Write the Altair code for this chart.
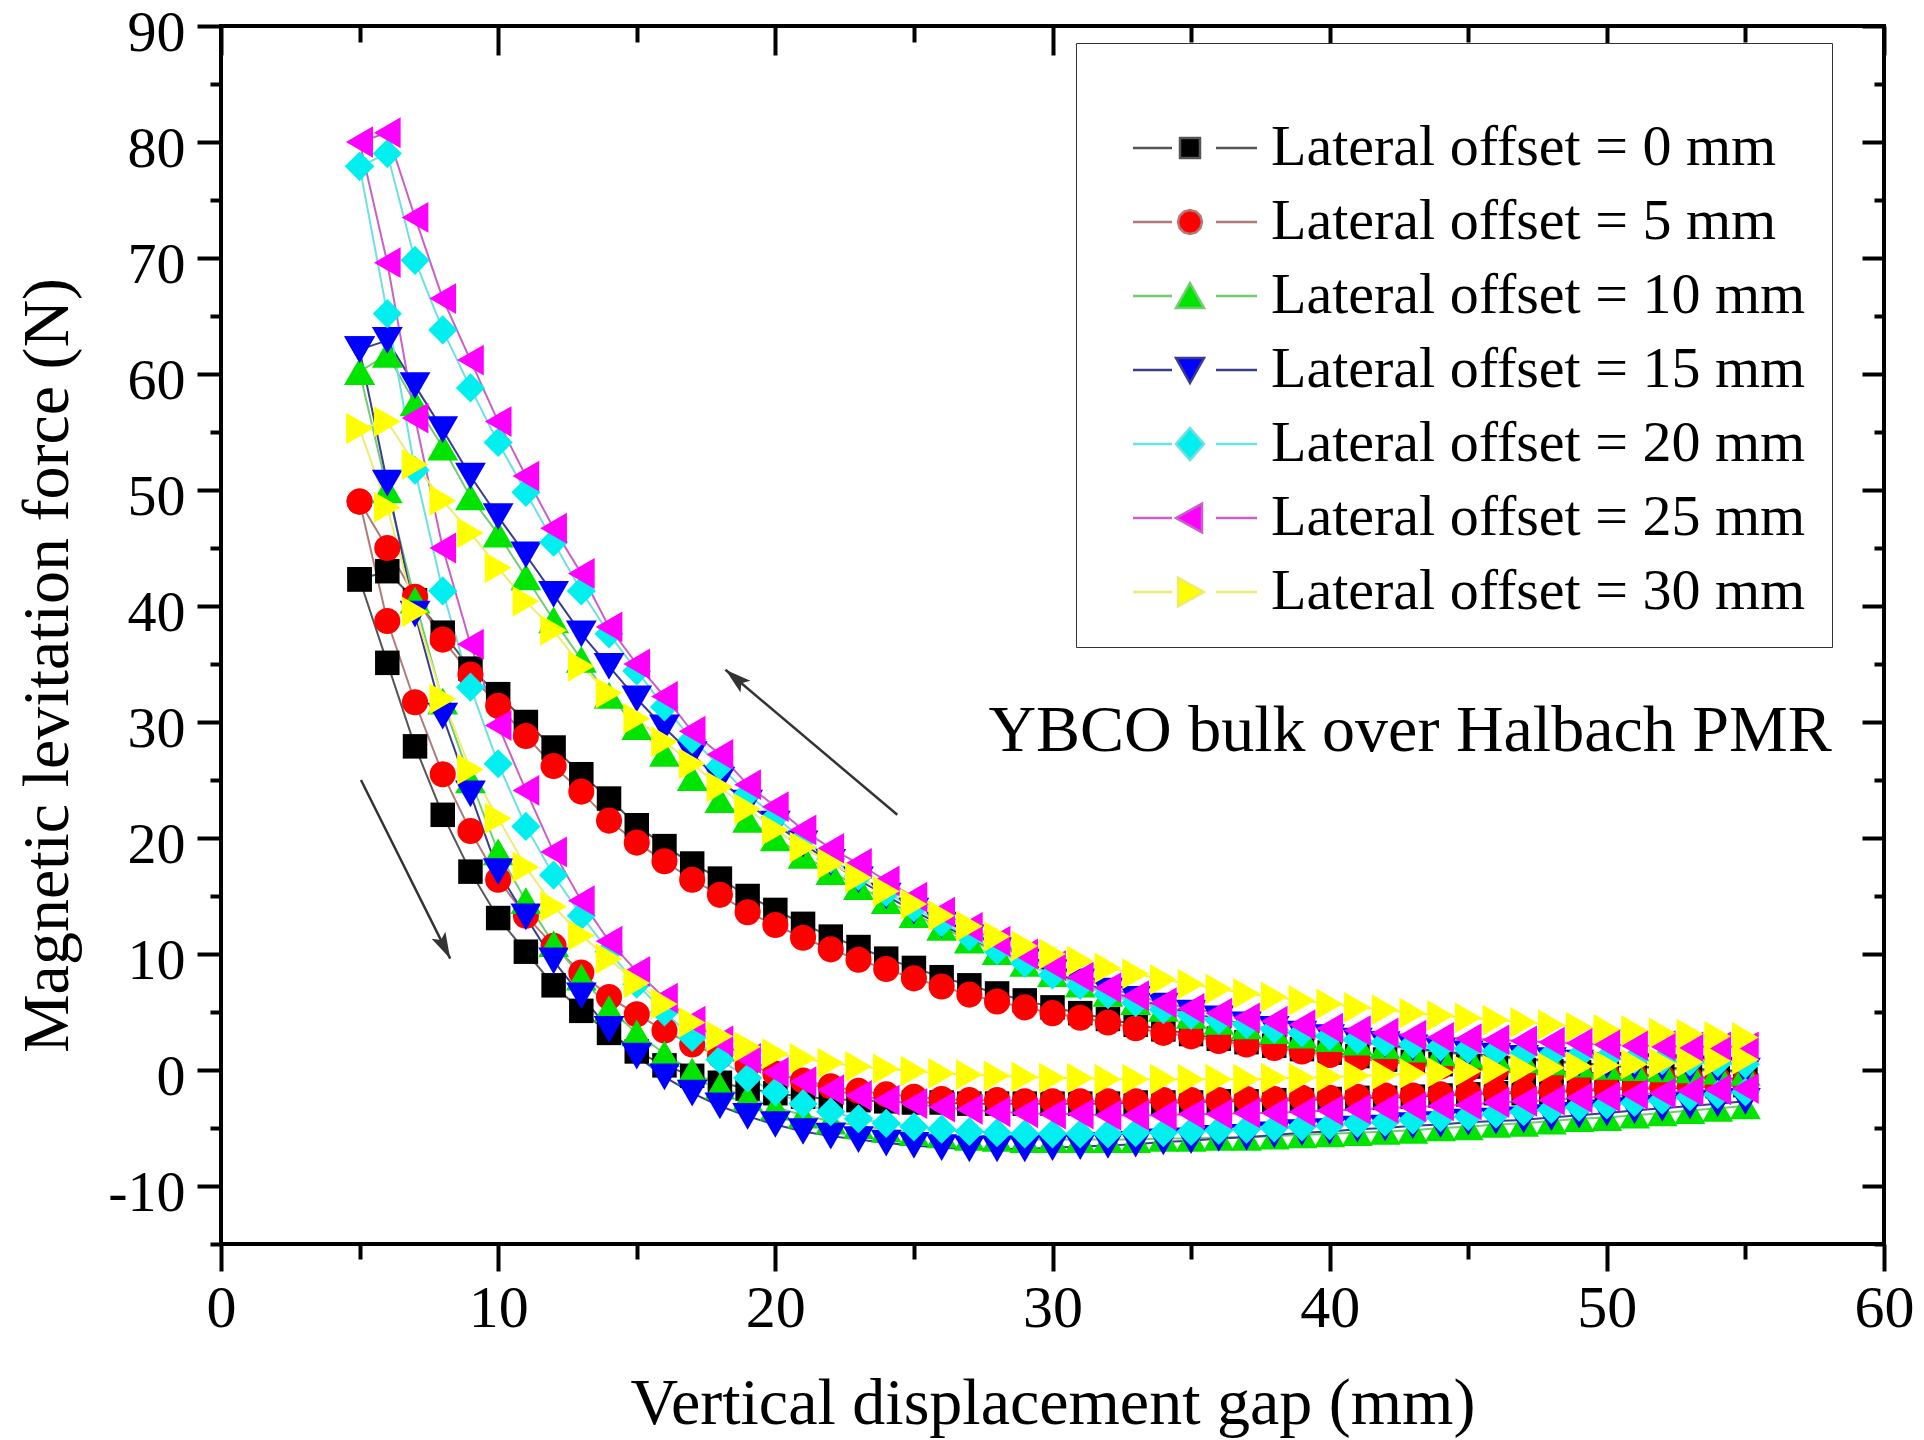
import math
import altair as alt
import pandas as pd

# ---------------- data ----------------
gap_mm = list(range(5, 56))  # measured every 1 mm from 5 to 55 mm

series_names = [
    "Lateral offset = 0 mm", "Lateral offset = 5 mm", "Lateral offset = 10 mm",
    "Lateral offset = 15 mm", "Lateral offset = 20 mm", "Lateral offset = 25 mm",
    "Lateral offset = 30 mm",
]

# approach branch (upper curve), values listed for gap 5..55 mm
approach_0 = [42.3, 43.0, 40.5, 37.7, 34.6, 32.4, 30.0, 27.8, 25.5, 23.4, 21.1, 19.3, 17.8, 16.5, 15.0, 13.8, 12.6,
              11.5, 10.6, 9.6, 8.8, 8.0, 7.3, 6.6, 6.0, 5.4, 4.9, 4.4, 3.9, 3.5, 3.1, 2.7, 2.4, 2.1, 1.8, 1.5, 1.2,
              0.9, 0.7, 0.5, 0.3, 0.2, 0.0, -0.1, -0.2, -0.3, -0.4, -0.5, -0.6, -0.7, -0.8]
approach_5 = [49.0, 45.0, 40.8, 37.1, 34.1, 31.4, 28.8, 26.2, 24.0, 21.5, 19.6, 18.0, 16.4, 15.1, 13.6, 12.5, 11.4,
              10.4, 9.5, 8.7, 7.9, 7.2, 6.5, 5.9, 5.4, 4.9, 4.5, 4.1, 3.6, 3.2, 2.9, 2.5, 2.2, 1.9, 1.6, 1.3, 1.0,
              0.7, 0.5, 0.3, 0.1, 0.0, -0.1, -0.2, -0.3, -0.4, -0.5, -0.6, -0.7, -0.8, -0.9]
approach_10 = [60.2, 61.7, 57.5, 53.7, 49.4, 46.2, 42.5, 38.8, 35.4, 32.3, 29.6, 27.3, 25.2, 23.3, 21.6, 20.0, 18.5,
               17.1, 15.8, 14.6, 13.4, 12.3, 11.2, 10.2, 9.2, 8.3, 7.4, 6.6, 5.9, 5.3, 4.7, 4.2, 3.8, 3.4, 3.0, 2.7,
               2.4, 2.1, 1.8, 1.5, 1.3, 1.1, 0.9, 0.7, 0.5, 0.3, 0.2, 0.1, 0.0, -0.1, -0.2]
approach_15 = [62.1, 62.9, 59.0, 55.2, 51.2, 47.7, 44.4, 41.0, 37.6, 34.8, 32.0, 29.5, 27.2, 25.0, 23.0, 21.2, 19.5,
               17.9, 16.4, 15.0, 13.7, 12.5, 11.4, 10.3, 9.3, 8.4, 7.6, 6.8, 6.1, 5.5, 4.9, 4.4, 3.9, 3.5, 3.1, 2.8,
               2.5, 2.2, 1.9, 1.6, 1.4, 1.2, 1.0, 0.8, 0.6, 0.4, 0.3, 0.2, 0.1, 0.0, -0.1]
approach_20 = [77.9, 79.0, 69.8, 63.8, 58.8, 54.1, 49.8, 45.5, 41.3, 37.6, 34.4, 31.3, 28.5, 26.2, 23.8, 21.8, 19.9,
               18.2, 16.7, 15.3, 14.0, 12.7, 11.5, 10.3, 9.2, 8.2, 7.3, 6.5, 5.8, 5.2, 4.7, 4.3, 3.9, 3.5, 3.2, 2.9,
               2.6, 2.4, 2.2, 2.0, 1.8, 1.6, 1.4, 1.3, 1.2, 1.0, 0.9, 0.8, 0.7, 0.6, 0.5]
approach_25 = [80.0, 80.8, 73.5, 66.5, 61.2, 55.9, 51.2, 46.7, 42.8, 38.2, 35.0, 32.2, 29.2, 27.2, 24.6, 22.7, 20.7,
               19.1, 17.8, 16.3, 14.9, 13.6, 12.3, 11.1, 10.0, 9.0, 8.0, 7.1, 6.4, 5.8, 5.3, 4.9, 4.5, 4.2, 3.9, 3.6,
               3.4, 3.2, 3.0, 2.8, 2.7, 2.6, 2.5, 2.4, 2.3, 2.2, 2.1, 2.1, 2.0, 2.0, 2.0]
approach_30 = [55.3, 55.9, 52.2, 49.1, 46.3, 43.3, 40.4, 37.9, 34.8, 32.5, 30.3, 28.3, 26.4, 24.4, 22.5, 20.7, 19.2,
               17.8, 16.6, 15.4, 14.3, 13.3, 12.4, 11.5, 10.7, 10.0, 9.4, 8.8, 8.3, 7.8, 7.4, 7.0, 6.6, 6.3, 6.0, 5.7,
               5.4, 5.2, 4.9, 4.7, 4.5, 4.3, 4.1, 3.9, 3.7, 3.5, 3.4, 3.2, 3.1, 2.9, 2.8]

# departure branch (lower curve), values listed for gap 5..55 mm
departure_0 = [42.3, 35.1, 27.9, 22.0, 17.1, 13.1, 10.2, 7.3, 5.1, 3.2, 1.6, 0.4, -0.5, -1.1, -1.6, -2.0, -2.3,
               -2.5, -2.6, -2.7, -2.8, -2.8, -2.9, -2.9, -2.9, -2.9, -2.9, -2.9, -2.8, -2.8, -2.8, -2.7, -2.7, -2.6,
               -2.6, -2.5, -2.4, -2.4, -2.3, -2.2, -2.1, -2.0, -2.0, -1.9, -1.8, -1.7, -1.6, -1.6, -1.5, -1.4, -1.3]
departure_5 = [49.0, 38.7, 31.7, 25.5, 20.6, 16.4, 13.3, 10.7, 8.4, 6.3, 4.8, 3.4, 2.2, 1.2, 0.4, -0.3, -0.9, -1.4,
               -1.8, -2.1, -2.3, -2.5, -2.6, -2.6, -2.7, -2.7, -2.7, -2.7, -2.7, -2.6, -2.6, -2.6, -2.5, -2.5, -2.4,
               -2.4, -2.3, -2.2, -2.2, -2.1, -2.0, -1.9, -1.9, -1.8, -1.7, -1.6, -1.5, -1.5, -1.4, -1.3, -1.2]
departure_10 = [60.2, 50.0, 40.5, 31.8, 25.0, 18.8, 14.6, 10.9, 8.0, 5.3, 3.2, 1.4, -0.1, -1.4, -2.4, -3.2, -3.9,
                -4.4, -4.8, -5.1, -5.4, -5.6, -5.8, -5.9, -6.0, -6.0, -6.0, -6.0, -6.0, -5.9, -5.9, -5.8, -5.8, -5.7,
                -5.6, -5.5, -5.4, -5.3, -5.2, -5.0, -4.9, -4.7, -4.6, -4.4, -4.2, -4.1, -3.9, -3.7, -3.5, -3.3, -3.1]
departure_15 = [62.1, 50.6, 39.3, 30.5, 23.8, 17.1, 13.2, 9.4, 6.4, 3.5, 1.2, -0.6, -2.0, -3.1, -4.0, -4.7, -5.3,
                -5.7, -6.0, -6.3, -6.5, -6.7, -6.8, -6.8, -6.8, -6.7, -6.6, -6.5, -6.4, -6.2, -6.1, -5.9, -5.8, -5.6,
                -5.4, -5.3, -5.1, -5.0, -4.8, -4.7, -4.5, -4.4, -4.3, -4.1, -3.9, -3.7, -3.5, -3.3, -3.1, -2.9, -2.7]
departure_20 = [77.9, 65.2, 51.7, 41.3, 33.0, 26.4, 21.0, 16.8, 13.3, 10.2, 7.4, 5.0, 2.8, 0.9, -0.7, -1.9, -2.9,
                -3.6, -4.2, -4.6, -4.9, -5.1, -5.3, -5.4, -5.5, -5.5, -5.5, -5.5, -5.4, -5.4, -5.3, -5.2, -5.1, -5.0,
                -4.9, -4.8, -4.6, -4.5, -4.3, -4.1, -4.0, -3.8, -3.6, -3.4, -3.2, -3.0, -2.8, -2.6, -2.3, -2.1, -1.9]
departure_25 = [80.0, 69.6, 56.2, 45.0, 36.7, 29.7, 24.1, 18.8, 14.6, 11.1, 8.5, 6.2, 4.2, 2.5, 1.0, -0.2, -1.0,
                -1.7, -2.2, -2.6, -2.9, -3.2, -3.4, -3.6, -3.7, -3.8, -3.8, -3.9, -3.9, -3.9, -3.8, -3.8, -3.7, -3.7,
                -3.6, -3.5, -3.4, -3.3, -3.2, -3.1, -3.0, -2.8, -2.7, -2.6, -2.4, -2.3, -2.1, -2.0, -1.8, -1.7, -1.6]
departure_30 = [55.3, 48.5, 39.5, 32.0, 25.9, 21.7, 17.5, 14.1, 11.6, 9.6, 7.5, 5.7, 4.1, 2.9, 2.0, 1.4, 1.0, 0.6,
                0.3, 0.1, -0.1, -0.3, -0.4, -0.5, -0.6, -0.7, -0.7, -0.8, -0.8, -0.8, -0.8, -0.8, -0.8, -0.7, -0.7,
                -0.6, -0.5, -0.4, -0.3, -0.2, -0.1, 0.0, 0.1, 0.2, 0.3, 0.4, 0.5, 0.6, 0.7, 0.8, 0.9]

x_major = [0, 10, 20, 30, 40, 50, 60]
x_minor = [5, 15, 25, 35, 45, 55]
y_major = [-10, 0, 10, 20, 30, 40, 50, 60, 70, 80, 90]
y_minor = [-15, -5, 5, 15, 25, 35, 45, 55, 65, 75, 85]

note_text = ["YBCO bulk over Halbach PMR"]
note_gap = [42.9]
note_force = [27.5]

arrow_tail_gap = [24.4, 5.05]
arrow_tail_force = [22.0, 25.0]
arrow_head_gap = [18.2, 8.27]
arrow_head_force = [34.5, 9.6]

# ---------------- styles ----------------
FONT = "Liberation Serif"
W, H = 1663, 1218
X_DOMAIN = [0, 60]
Y_DOMAIN = [-15, 90]

marker_colors = ["#000000", "#ff0000", "#00e400", "#0000ff", "#00f0f0", "#ff00ff", "#ffff00"]
line_colors = ["#555555", "#b07a7a", "#72cc72", "#3c3c8c", "#6ee0e0", "#c860c8", "#ecec70"]
marker_shapes = ["square", "circle", "triangle-up", "triangle-down", "diamond", "triangle-left", "triangle-right"]
marker_sizes = [600, 680, 950, 950, 850, 950, 950]

# legend symbol paths (unit = 20 px): left stub, right stub, marker centred at x = 2.95
stub = "M0.1,0L2.05,0M4.25,0L6.3,0"
legend_paths = [
    stub + "M2.45,-0.5L3.45,-0.5L3.45,0.5L2.45,0.5Z",
    stub + "M3.55,0L3.47,0.3L3.25,0.52L2.95,0.6L2.65,0.52L2.43,0.3L2.35,0L2.43,-0.3L2.65,-0.52L2.95,-0.6L3.25,-0.52L3.47,-0.3Z",
    stub + "M2.95,-0.65L3.65,0.6L2.25,0.6Z",
    stub + "M2.95,0.65L3.65,-0.6L2.25,-0.6Z",
    stub + "M2.95,-0.8L3.65,0L2.95,0.8L2.25,0Z",
    stub + "M2.25,0L3.55,-0.72L3.55,0.72Z",
    stub + "M3.65,0L2.35,-0.72L2.35,0.72Z",
]

# ---------------- tables ----------------
approach = [approach_0, approach_5, approach_10, approach_15, approach_20, approach_25, approach_30]
departure = [departure_0, departure_5, departure_10, departure_15, departure_20, departure_25, departure_30]

rows = []
n = len(gap_mm)
for s, name in enumerate(series_names):
    for i in range(n - 1, -1, -1):
        rows.append({"series": name, "sidx": s, "gap": gap_mm[i], "force": approach[s][i], "order": n - 1 - i})
    for i in range(n):
        rows.append({"series": name, "sidx": s, "gap": gap_mm[i], "force": departure[s][i], "order": n + i})
df = pd.DataFrame(rows)

note_df = pd.DataFrame({"gap": note_gap, "force": note_force, "text": note_text})

px_x = W / (X_DOMAIN[1] - X_DOMAIN[0])
px_y = H / (Y_DOMAIN[1] - Y_DOMAIN[0])
angles = []
for tx, ty, hx, hy in zip(arrow_tail_gap, arrow_tail_force, arrow_head_gap, arrow_head_force):
    dxs = (hx - tx) * px_x
    dys = -(hy - ty) * px_y
    angles.append(math.degrees(math.atan2(dxs, -dys)) % 360)
arrow_df = pd.DataFrame({"gap": arrow_tail_gap, "force": arrow_tail_force,
                         "gap2": arrow_head_gap, "force2": arrow_head_force, "angle": angles})

xs = alt.Scale(domain=X_DOMAIN, nice=False, zero=False)
ys = alt.Scale(domain=Y_DOMAIN, nice=False, zero=False)

common_axis = dict(grid=False, domain=False, tickColor="black", tickWidth=4, labelColor="black",
                   labelFont=FONT, labelFontSize=60, labelFlush=False, labelOverlap=False, labelBound=False,
                   titleFont=FONT, titleFontSize=66, titleFontWeight="normal", titleColor="black")

def ax(**kw):
    d = dict(common_axis)
    d.update(kw)
    return alt.Axis(**d)

leg = alt.Legend(title="\u00a0", titleFontSize=36, titlePadding=14, orient="none", legendX=855, legendY=17,
                 padding=26, rowPadding=16,
                 labelFont=FONT, labelFontSize=58, labelColor="black", labelOffset=111, labelLimit=1000,
                 symbolSize=1600, symbolStrokeWidth=2.5, symbolOpacity=1,
                 strokeColor="#333333", fillColor="#ffffff")

# lines: bottom / left major axes with labels and titles; carries the legend (line stubs)
lines = alt.Chart(df).mark_line(strokeWidth=2).encode(
    x=alt.X("gap:Q", scale=xs, axis=ax(orient="bottom", values=x_major, tickSize=27, labelPadding=8,
                                       title="Vertical displacement gap (mm)", titleY=179,
                                       titleBaseline="alphabetic")),
    y=alt.Y("force:Q", scale=ys, axis=ax(orient="left", values=y_major, tickSize=24, labelPadding=12,
                                         labelOffset=7, labelFontSize=58, labelExpr="'' + datum.value",
                                         title="Magnetic levitation force (N)", titleX=-174, titleY=639,
                                         titleAngle=270, titleBaseline="middle", titleAlign="center")),
    color=alt.Color("series:N", scale=alt.Scale(domain=series_names, range=line_colors), legend=leg),
    order="order:Q",
)

point_layers = []
for s in range(len(series_names)):
    if s == 0:
        xenc = alt.X("gap:Q", scale=xs, axis=ax(orient="bottom", values=x_minor, tickSize=15, labels=False, title=None))
        yenc = alt.Y("force:Q", scale=ys, axis=ax(orient="left", values=y_minor, tickSize=11, labels=False, title=None))
    else:
        xenc = alt.X("gap:Q", scale=xs, axis=None)
        yenc = alt.Y("force:Q", scale=ys, axis=None)
    point_layers.append(
        alt.Chart(df).transform_filter(alt.datum.sidx == s).mark_point(
            filled=True, shape=marker_shapes[s], size=marker_sizes[s], color=marker_colors[s],
            opacity=1, strokeWidth=0
        ).encode(x=xenc, y=yenc)
    )

# annotation text: carries the inward mirror major ticks (top / right)
note = alt.Chart(note_df).mark_text(font=FONT, fontSize=66, align="center", baseline="alphabetic",
                                    color="black").encode(
    x=alt.X("gap:Q", scale=xs, axis=ax(orient="top", values=x_major, tickSize=29, offset=-29,
                                       labels=False, title=None)),
    y=alt.Y("force:Q", scale=ys, axis=ax(orient="right", values=y_major, tickSize=22, offset=-22,
                                         labels=False, title=None)),
    text="text:N",
)

# arrows: carry the inward mirror minor ticks
arrow_lines = alt.Chart(arrow_df).mark_rule(strokeWidth=2.5, color="#333333").encode(
    x=alt.X("gap:Q", scale=xs, axis=ax(orient="top", values=x_minor, tickSize=16, offset=-16,
                                       labels=False, title=None)),
    y=alt.Y("force:Q", scale=ys, axis=ax(orient="right", values=y_minor, tickSize=10, offset=-10,
                                         labels=False, title=None)),
    x2="gap2:Q",
    y2="force2:Q",
)
arrow_heads = alt.Chart(arrow_df).mark_point(
    shape="M0,0L0.5,1.7L0,1.35L-0.5,1.7Z", size=950, filled=True, color="#333333", opacity=1, strokeWidth=0
).encode(
    x=alt.X("gap2:Q", scale=xs, axis=None),
    y=alt.Y("force2:Q", scale=ys, axis=None),
    angle=alt.Angle("angle:Q", scale=None),
)

# invisible layer that only feeds the legend symbols (marker + line stubs per series)
legend_layer = alt.Chart(df).mark_point(filled=True, opacity=0, strokeWidth=2.5).encode(
    x=alt.X("gap:Q", scale=xs, axis=None),
    y=alt.Y("force:Q", scale=ys, axis=None),
    fill=alt.Fill("series:N", scale=alt.Scale(domain=series_names, range=marker_colors), legend=leg),
    stroke=alt.Stroke("series:N", scale=alt.Scale(domain=series_names, range=line_colors), legend=leg),
    shape=alt.Shape("series:N", scale=alt.Scale(domain=series_names, range=legend_paths), legend=leg),
)

chart = alt.layer(lines, *point_layers, note, arrow_lines, arrow_heads, legend_layer).resolve_axis(
    x="independent", y="independent"
).properties(
    width=W, height=H,
    autosize=alt.AutoSizeParams(type="none"),
    padding={"left": 213, "top": 18, "right": 30, "bottom": 194},
    background="white",
).configure_view(stroke="black", strokeWidth=4)

chart.save("out.html", embed_options={"renderer": "svg", "actions": False})
